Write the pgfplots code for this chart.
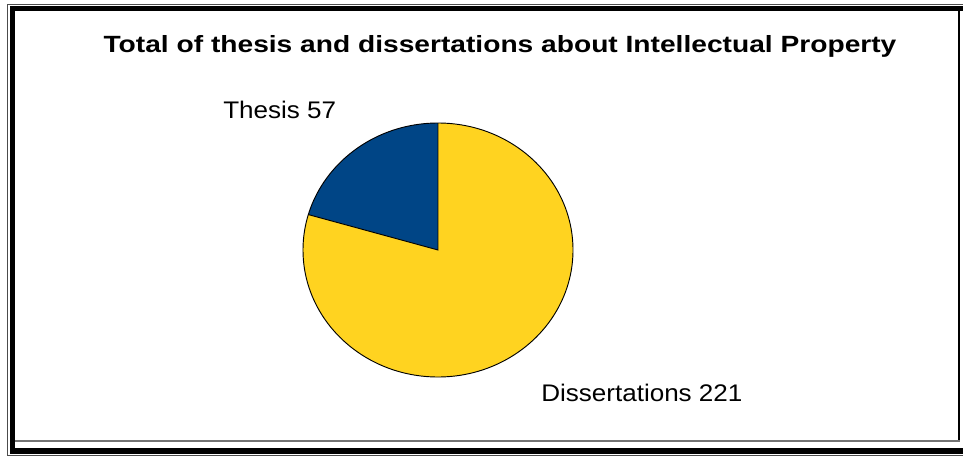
\documentclass[border=0pt]{standalone}
\usepackage{pgfplots}
\pgfplotsset{compat=1.18}
\usepackage{pgfplotstable}
\usepackage{fontspec}
\setmainfont{Liberation Sans}
\definecolor{pieblue}{HTML}{004586}
\definecolor{pieyellow}{HTML}{FFD320}
\pgfplotstableread{
label value
Thesis 57
Dissertations 221
}\piedata
\begin{document}
\begin{tikzpicture}
\pgfplotstablegetelem{0}{value}\of\piedata \xdef\vA{\pgfplotsretval}
\pgfplotstablegetelem{1}{value}\of\piedata \xdef\vB{\pgfplotsretval}
\pgfmathsetmacro\angA{90+360*(\vA/(\vA+\vB))}
\xdef\angA{\angA}
\useasboundingbox (0,0) rectangle (722.25pt,-342pt);
\begin{scope}[x=0.75pt,y=-0.75pt]
  \draw[line width=0.75pt,black!70] (7.5,4.5) rectangle (980,455.5);
  \draw[line width=3.9pt,black] (12.8,8.6) rectangle (980,451);
  \draw[line width=1.2pt,black] (959,11) -- (959,441.5);
  \draw[line width=1.2pt,black!55] (15,441) -- (959.6,441);
  \node[anchor=base, inner sep=0pt] at (500,52.3)
    {\scalebox{1.2}[1]{\fontsize{17.6pt}{20pt}\selectfont\bfseries Total of thesis and dissertations about Intellectual Property}};
  \node[anchor=base west, inner sep=0pt] at (223,119)
    {\scalebox{1.085}[1]{\fontsize{18pt}{20pt}\selectfont Thesis \vA}};
  \node[anchor=base west, inner sep=0pt] at (541,401.7)
    {\scalebox{1.085}[1]{\fontsize{18pt}{20pt}\selectfont Dissertations \vB}};
\end{scope}
\begin{axis}[
  at={(328.5pt,-187.5pt)}, anchor=center,
  scale only axis, width=202.5pt, height=190.5pt,
  xmin=-1, xmax=1, ymin=-1, ymax=1,
  hide axis, clip=false]
  \addplot[draw=none] coordinates {(-1,-1) (1,1)};
  \fill[pieblue] (axis cs:0,0) -- (axis cs:0,1)
     arc[start angle=90, end angle=\angA, x radius=101.25pt, y radius=95.25pt] -- cycle;
  \fill[pieyellow] (axis cs:0,0) -- (axis cs:{cos(\angA)},{sin(\angA)})
     arc[start angle=\angA, end angle=450, x radius=101.25pt, y radius=95.25pt] -- cycle;
  \draw[black, line width=0.7pt] (axis cs:0,0) ellipse [x radius=101.25pt, y radius=95.25pt];
  \draw[black, line width=0.7pt] (axis cs:0,1) -- (axis cs:0,0) -- (axis cs:{cos(\angA)},{sin(\angA)});
\end{axis}
\end{tikzpicture}
\end{document}
